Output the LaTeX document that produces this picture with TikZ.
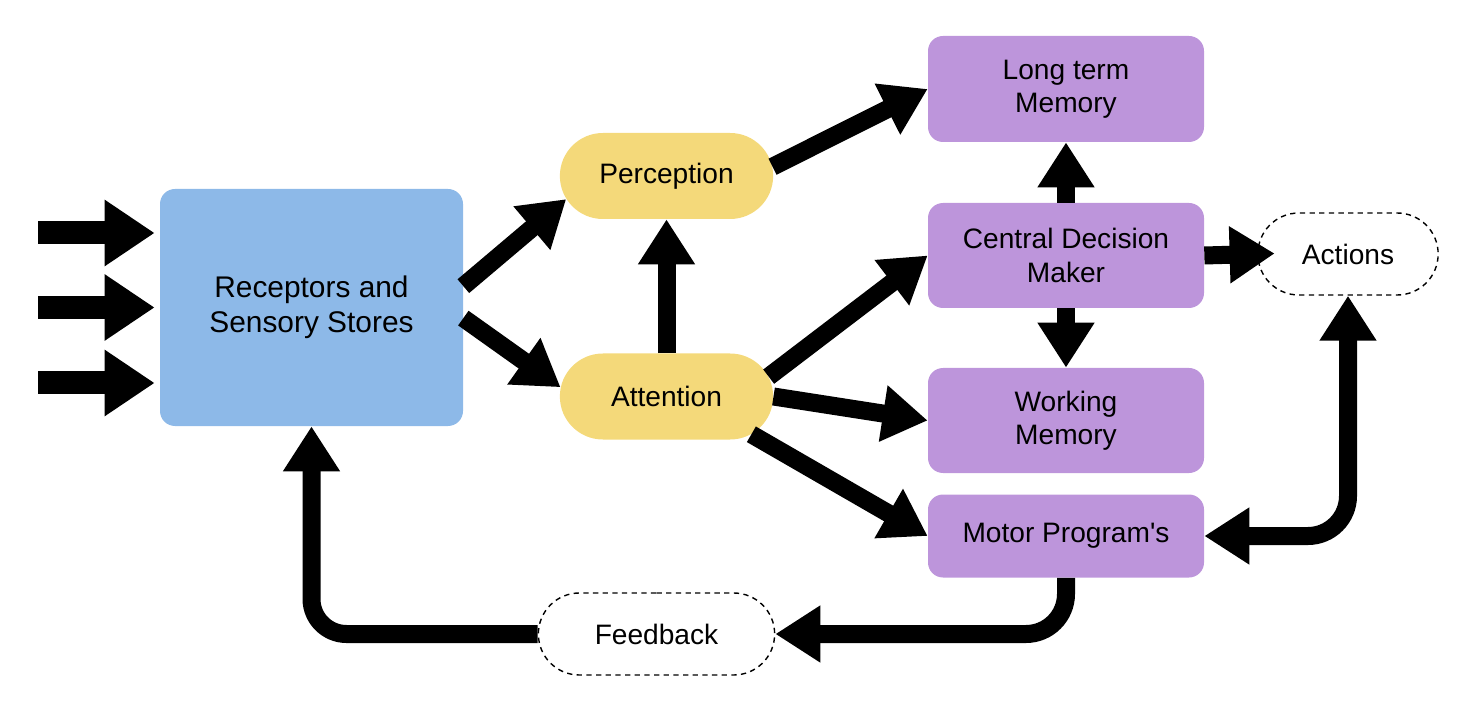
\documentclass[tikz,border=0pt]{standalone}
\usepackage{fontspec}
\setmainfont{Liberation Sans}
\usetikzlibrary{arrows.meta,shapes.misc}

\definecolor{recblue}{RGB}{141,185,232}
\definecolor{pillyellow}{RGB}{244,217,122}
\definecolor{boxpurple}{RGB}{189,149,219}

\begin{document}
\begin{tikzpicture}[
  font=\fontsize{16}{19}\selectfont,
  bluebox/.style={rectangle, rounded corners=0.3cm, fill=recblue,
    minimum width=6.06cm, minimum height=4.74cm, align=center},
  yellowpill/.style={rounded rectangle, fill=pillyellow,
    minimum width=4.5cm, minimum height=1.72cm},
  purplebox/.style={rectangle, rounded corners=0.3cm, fill=boxpurple,
    minimum width=5.52cm, minimum height=2.1cm, align=center},
  dashpill/.style={rounded rectangle, draw, dash pattern=on 3pt off 2.5pt,
    line width=0.8pt, minimum height=1.64cm},
  flow/.style={line width=0.36cm, -{Triangle[length=0.9cm,width=1.08cm]}},
  inflow/.style={line width=0.46cm, -{Triangle[length=1cm,width=1.26cm]},
    shorten >=0.1cm},
]

\useasboundingbox (0,0) rectangle (29.44,14.08);

% Boites
\node[bluebox, font=\fontsize{17}{20}\selectfont] (rec)
at (6.23,7.93)
{Receptors and\\Sensory Stores};

\node[yellowpill] (per)
at (13.33,10.56)
{Perception};

\node[yellowpill] (att)
at (13.33,6.15)
{Attention};

\node[purplebox, minimum height=2.12cm] (ltm)
at (21.32,12.30)
{Long term\\Memory};

\node[purplebox] (cdm)
at (21.32,8.97)
{Central Decision\\Maker};

\node[purplebox] (wm)
at (21.32,5.67)
{Working\\Memory};

\node[purplebox, minimum height=1.66cm] (mp)
at (21.32,3.36)
{Motor Program\textquotesingle s};

\node[dashpill, minimum width=3.84cm] (act)
at (26.96,9.00)
{Actions};

\node[dashpill, minimum width=4.96cm] (fb)
at (13.13,1.40)
{Feedback};

% Entrees
\foreach \i/\dy in {1/1.49,2/0,3/-1.51}
{
\coordinate (src\i) at (0.76,7.93+\dy);
\draw[inflow] (src\i) -- (src\i -| rec.west);
}

% Fleches
\draw[flow] (rec.8) -- (per.193);
\draw[flow] (rec.-4) -- (att.175);
\draw[flow] (att.north) -- (per.south);
\draw[flow] (per.5) -- (ltm.west);
\draw[flow] (att.11) -- (cdm.west);
\draw[flow] (att.east) -- (wm.west);
\draw[flow] (att.-24) -- (mp.west);
\draw[flow] (cdm.north) -- (ltm.south);
\draw[flow] (cdm.south) -- (wm.north);
\draw[flow, shorten >=-0.35cm] (cdm.east) -- (act.west);

% Retours
\draw[flow, {Triangle[length=0.9cm,width=1.08cm]}-{Triangle[length=0.9cm,width=1.08cm]},
  rounded corners=0.8cm]
(mp.east) -| (act.south);

\draw[flow, rounded corners=0.8cm]
(mp.south) |- (fb.east);

\draw[flow, rounded corners=0.7cm]
(fb.west) -| (rec.south);

\end{tikzpicture}
\end{document}
